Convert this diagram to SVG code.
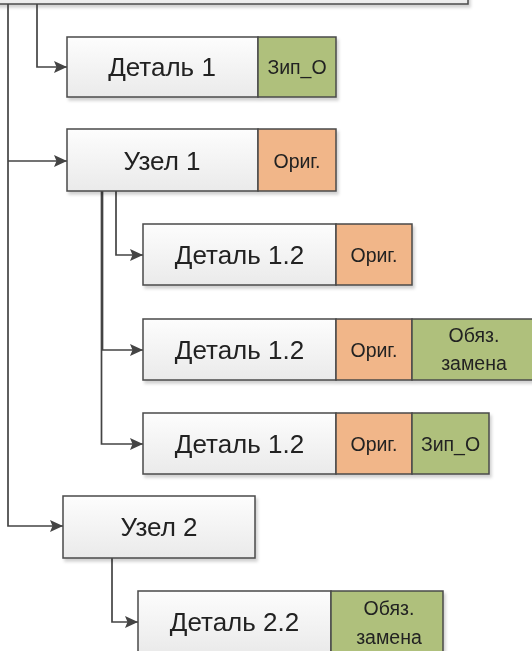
<svg xmlns="http://www.w3.org/2000/svg" width="532" height="651" viewBox="0 0 532 651">
<defs>
<linearGradient id="g" x1="0" y1="0" x2="0" y2="1"><stop offset="0" stop-color="#fdfdfd"/><stop offset="1" stop-color="#eaeaea"/></linearGradient>
<filter id="sh" x="-10%" y="-20%" width="120%" height="150%"><feDropShadow dx="2" dy="3" stdDeviation="1.5" flood-color="#000" flood-opacity="0.18"/></filter>
<marker id="ar" viewBox="0 0 13 12" refX="13" refY="6" markerWidth="13" markerHeight="12" markerUnits="userSpaceOnUse" orient="auto"><path d="M0,0 L13,6 L0,12 L2.5,6 Z" fill="#444"/></marker>
<style>
.b{fill:url(#g);stroke:#4a4a4a;stroke-width:1.5}
.gr{fill:#afc07c;stroke:#4a4a4a;stroke-width:1.5}
.or{fill:#f1b689;stroke:#4a4a4a;stroke-width:1.5}
.t{font-family:"Liberation Sans",Arial,sans-serif;font-size:26px;fill:#222;text-anchor:middle}
.s{font-family:"Liberation Sans",Arial,sans-serif;font-size:19.5px;fill:#222;text-anchor:middle}
.c path{fill:none;stroke:#444;stroke-width:1.7}
.c .a{marker-end:url(#ar)}
</style>
</defs>
<g id="top" filter="url(#sh)"><rect class="b" x="-4" y="-20" width="472" height="24"/></g>
<g class="c" id="connectors">
<path d="M8,4 V526 H63" class="a"/>
<path d="M8,161 H67" class="a"/>
<path d="M37,4 V67 H67" class="a"/>
<path d="M116,191 V255 H143" class="a"/>
<path d="M102.5,191 V350 H143" class="a"/>
<path d="M101.5,191 V444 H143" class="a"/>
<path d="M112,558 V622 H138" class="a"/>
</g>
<g id="detal1" filter="url(#sh)"><rect class="b" x="67" y="37" width="191" height="60"/><rect class="gr" x="258" y="37" width="78" height="60"/>
<text class="t" x="162" y="76">Деталь 1</text><text class="s" x="297" y="74">Зип_О</text></g>
<g id="uzel1" filter="url(#sh)"><rect class="b" x="67" y="129" width="191" height="62"/><rect class="or" x="258" y="129" width="78" height="62"/>
<text class="t" x="162" y="170">Узел 1</text><text class="s" x="297" y="168">Ориг.</text></g>
<g id="detal12a" filter="url(#sh)"><rect class="b" x="143" y="224" width="193" height="61"/><rect class="or" x="336" y="224" width="76" height="61"/>
<text class="t" x="239.5" y="264">Деталь 1.2</text><text class="s" x="374" y="262">Ориг.</text></g>
<g id="detal12b" filter="url(#sh)"><rect class="b" x="143" y="319" width="193" height="61"/><rect class="or" x="336" y="319" width="76" height="61"/><rect class="gr" x="412" y="319" width="124" height="61"/>
<text class="t" x="239.5" y="359">Деталь 1.2</text><text class="s" x="374" y="357">Ориг.</text><text class="s" x="474" y="342">Обяз.</text><text class="s" x="474" y="370">замена</text></g>
<g id="detal12c" filter="url(#sh)"><rect class="b" x="143" y="413" width="193" height="61"/><rect class="or" x="336" y="413" width="76" height="61"/><rect class="gr" x="412" y="413" width="77" height="61"/>
<text class="t" x="239.5" y="453">Деталь 1.2</text><text class="s" x="374" y="451">Ориг.</text><text class="s" x="450.5" y="451">Зип_О</text></g>
<g id="uzel2" filter="url(#sh)"><rect class="b" x="63" y="496" width="192" height="62"/>
<text class="t" x="159" y="536">Узел 2</text></g>
<g id="detal22" filter="url(#sh)"><rect class="b" x="138" y="591" width="193" height="62"/><rect class="gr" x="331" y="591" width="112" height="62"/>
<text class="t" x="234.5" y="631">Деталь 2.2</text><text class="s" x="389" y="615">Обяз.</text><text class="s" x="389" y="644">замена</text></g>
</svg>
